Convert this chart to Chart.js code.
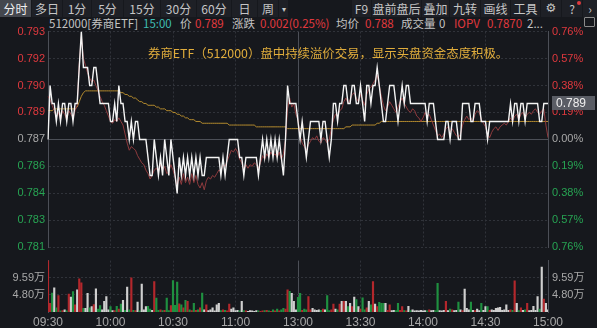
<!DOCTYPE html>
<html>
<head>
<meta charset="utf-8">
<script src="https://cdn.jsdelivr.net/npm/chart.js@4.4.0/dist/chart.umd.min.js"></script>
<style>
  html, body { margin: 0; padding: 0; background: #16181d; }
  #wrap { position: relative; width: 597px; height: 328px; overflow: hidden; background: #16181d;
          font-family: "Noto Sans CJK SC", "Noto Sans", sans-serif; }
  .tab { position: absolute; top: 0; height: 17px; line-height: 17px; font-size: 12px; color: #c6c6c6;
         text-align: center; background: #1e2026; }
  .tab.on { background: #44474e; color: #f0f0f0; }
  .t { position: absolute; white-space: nowrap; font-size: 11.5px; line-height: 14px; }
  .g { color: #c4c4c4; }
  .r { color: #e0393e; }
  canvas { position: absolute; left: 0; }
  #priceChart { top: 0; z-index: 2; }
  #volChart { top: 250px; z-index: 1; }
  #note { position: absolute; left: 148px; top: 46px; font-size: 12.4px; line-height: 14px; color: #e1ad3c;
          white-space: nowrap; z-index: 3; }
</style>
</head>
<body>
<div id="wrap">
  <!-- 顶部工具栏 -->
  <div class="tab on" style="left:0;width:31px">分时</div>
  <div class="tab" style="left:32px;width:30px">多日</div>
  <div class="tab" style="left:63px;width:28px">1分</div>
  <div class="tab" style="left:92px;width:31px">5分</div>
  <div class="tab" style="left:124px;width:36px">15分</div>
  <div class="tab" style="left:161px;width:35px">30分</div>
  <div class="tab" style="left:197px;width:34px">60分</div>
  <div class="tab" style="left:232px;width:25px">日</div>
  <div class="tab" style="left:258px;width:20px">周</div>
  <div class="tab" style="left:279px;width:9px;font-size:8px">▾</div>
  <div class="tab" style="left:352px;width:19px">F9</div>
  <div class="tab" style="left:372px;width:49px">盘前盘后</div>
  <div class="tab" style="left:422px;width:27px">叠加</div>
  <div class="tab" style="left:450px;width:30px">九转</div>
  <div class="tab" style="left:481px;width:29px">画线</div>
  <div class="tab" style="left:511px;width:29px">工具</div>
  <div class="tab" style="left:541px;width:20px;font-family:'DejaVu Sans'">⚙</div>
  <div class="tab" style="left:562px;width:20px">?</div>
  <div style="position:absolute;left:577px;top:1px;width:4px;height:4px;border-radius:2px;background:#e0393e"></div>
  <div class="tab" style="left:583px;width:14px">›</div>

  <!-- 行情信息行 -->
  <div class="t g" style="left:49px;top:16px">512000[券商ETF]</div>
  <div class="t" style="left:143px;top:16px;color:#3fbdb3">15:00</div>
  <div class="t g" style="left:180px;top:16px">价</div>
  <div class="t r" style="left:195px;top:16px">0.789</div>
  <div class="t g" style="left:232px;top:16px">涨跌</div>
  <div class="t r" style="left:260px;top:16px">0.002(0.25%)</div>
  <div class="t g" style="left:336px;top:16px">均价</div>
  <div class="t r" style="left:365px;top:16px">0.788</div>
  <div class="t g" style="left:401px;top:16px">成交量</div>
  <div class="t g" style="left:439px;top:16px">0</div>
  <div class="t r" style="left:454px;top:16px">IOPV</div>
  <div class="t r" style="left:487px;top:16px">0.7870</div>
  <div class="t g" style="left:527px;top:16px">2...</div>
  <div style="position:absolute;left:584px;top:17px;width:9px;height:8px;border:1px solid #8a8a8a;border-radius:1px"></div>

  <div id="note">券商ETF（512000）盘中持续溢价交易，显示买盘资金态度积极。</div>

  <canvas id="priceChart" width="597" height="258"></canvas>
  <canvas id="volChart" width="597" height="78"></canvas>
</div>

<script>
// 数据
const prevClose = 0.787;

// 价格（每分钟，09:30 - 15:00）
const price = [
  0.787,0.790,0.789,0.789,0.788,0.789,0.788,0.789,0.789,0.788,
  0.789,0.789,0.788,0.789,0.789,0.791,0.793,0.791,0.791,0.791,
  0.790,0.790,0.791,0.791,0.790,0.789,0.789,0.789,0.789,0.789,
  0.788,0.788,0.789,0.788,0.790,0.789,0.789,0.788,0.788,0.787,
  0.788,0.787,0.788,0.788,0.787,0.787,0.787,0.787,0.786,0.785,
  0.785,0.787,0.786,0.785,0.786,0.785,0.787,0.786,0.785,0.787,
  0.786,0.785,0.784,0.786,0.785,0.786,0.785,0.786,0.785,0.786,
  0.785,0.786,0.785,0.786,0.785,0.785,0.786,0.786,0.786,0.786,
  0.786,0.786,0.786,0.785,0.786,0.785,0.786,0.787,0.787,0.787,
  0.787,0.787,0.786,0.786,0.785,0.786,0.786,0.786,0.786,0.786,
  0.786,0.785,0.786,0.787,0.786,0.787,0.786,0.787,0.786,0.787,
  0.786,0.787,0.786,0.785,0.787,0.790,0.789,0.789,0.789,0.789,
  0.788,0.787,0.788,0.787,0.786,0.787,0.788,0.788,0.788,0.788,
  0.788,0.787,0.788,0.788,0.787,0.786,0.787,0.789,0.789,0.788,
  0.789,0.789,0.790,0.790,0.789,0.789,0.790,0.790,0.789,0.789,
  0.790,0.789,0.788,0.790,0.790,0.789,0.790,0.790,0.791,0.790,
  0.789,0.788,0.788,0.789,0.790,0.790,0.790,0.789,0.788,0.789,
  0.790,0.789,0.790,0.790,0.789,0.789,0.789,0.789,0.789,0.789,
  0.789,0.789,0.788,0.789,0.789,0.789,0.788,0.787,0.787,0.787,
  0.787,0.788,0.788,0.787,0.788,0.788,0.788,0.787,0.787,0.789,
  0.789,0.789,0.789,0.788,0.788,0.789,0.789,0.789,0.788,0.788,
  0.788,0.787,0.788,0.788,0.788,0.788,0.788,0.788,0.788,0.788,
  0.788,0.788,0.789,0.788,0.789,0.789,0.788,0.789,0.789,0.788,
  0.789,0.789,0.789,0.789,0.789,0.789,0.788,0.788,0.789,0.789,
  0.789
];

// IOPV
const iopv = [
  0.7894,0.7892,0.7889,0.7886,0.7882,0.7885,0.7881,0.7886,0.7884,0.7881,
  0.7886,0.7884,0.7882,0.7886,0.7889,0.7912,0.7927,0.7915,0.7911,0.7907,
  0.7904,0.7902,0.7903,0.7900,0.7897,0.7894,0.7891,0.7889,0.7886,0.7883,
  0.7880,0.7879,0.7881,0.7880,0.7882,0.7880,0.7878,0.7873,0.7868,0.7864,
  0.7866,0.7865,0.7864,0.7861,0.7859,0.7857,0.7856,0.7853,0.7851,0.7848,
  0.7850,0.7853,0.7854,0.7852,0.7856,0.7853,0.7855,0.7851,0.7852,0.7856,
  0.7853,0.7849,0.7844,0.7849,0.7845,0.7851,0.7846,0.7849,0.7845,0.7851,
  0.7846,0.7850,0.7845,0.7843,0.7846,0.7842,0.7847,0.7849,0.7848,0.7850,
  0.7849,0.7851,0.7853,0.7852,0.7856,0.7855,0.7858,0.7861,0.7864,0.7863,
  0.7865,0.7863,0.7859,0.7857,0.7853,0.7856,0.7854,0.7856,0.7855,0.7857,
  0.7856,0.7854,0.7857,0.7861,0.7859,0.7862,0.7860,0.7863,0.7861,0.7862,
  0.7860,0.7863,0.7859,0.7862,0.7870,0.7887,0.7893,0.7888,0.7890,0.7884,
  0.7881,0.7872,0.7868,0.7866,0.7864,0.7867,0.7869,0.7871,0.7870,0.7872,
  0.7869,0.7868,0.7871,0.7870,0.7868,0.7870,0.7876,0.7881,0.7884,0.7883,
  0.7886,0.7887,0.7891,0.7893,0.7890,0.7892,0.7895,0.7896,0.7893,0.7891,
  0.7895,0.7892,0.7889,0.7895,0.7898,0.7899,0.7901,0.7903,0.7906,0.7900,
  0.7894,0.7889,0.7886,0.7888,0.7891,0.7889,0.7887,0.7885,0.7888,0.7891,
  0.7893,0.7890,0.7888,0.7886,0.7885,0.7887,0.7886,0.7883,0.7882,0.7880,
  0.7882,0.7885,0.7883,0.7884,0.7881,0.7878,0.7875,0.7872,0.7873,0.7871,
  0.7873,0.7876,0.7877,0.7874,0.7876,0.7874,0.7872,0.7871,0.7873,0.7878,
  0.7881,0.7883,0.7881,0.7882,0.7880,0.7884,0.7886,0.7885,0.7881,0.7879,
  0.7877,0.7873,0.7871,0.7874,0.7876,0.7877,0.7875,0.7877,0.7878,0.7879,
  0.7878,0.7880,0.7882,0.7880,0.7883,0.7884,0.7881,0.7884,0.7885,0.7882,
  0.7884,0.7885,0.7884,0.7886,0.7887,0.7885,0.7884,0.7886,0.7887,0.7878,
  0.7871
];

// 均价
const avgPrice = [
  0.7886,0.7886,0.7886,0.7887,0.7887,0.7887,0.7887,0.7887,0.7887,0.7887,
  0.7887,0.7887,0.7887,0.7887,0.7888,0.7891,0.7894,0.7896,0.7897,0.7897,
  0.7897,0.7897,0.7897,0.7897,0.7897,0.7897,0.7897,0.7897,0.7897,0.7897,
  0.7897,0.7897,0.7897,0.7897,0.7897,0.7896,0.7896,0.7895,0.7895,0.7894,
  0.7894,0.7893,0.7893,0.7892,0.7891,0.7891,0.7890,0.7890,0.7889,0.7889,
  0.7889,0.7889,0.7888,0.7888,0.7887,0.7887,0.7887,0.7886,0.7886,0.7886,
  0.7885,0.7885,0.7884,0.7884,0.7883,0.7883,0.7882,0.7882,0.7881,0.7881,
  0.7881,0.7880,0.7880,0.7880,0.7879,0.7879,0.7879,0.7879,0.7879,0.7879,
  0.7879,0.7879,0.7879,0.7879,0.7879,0.7879,0.7879,0.7878,0.7878,0.7878,
  0.7878,0.7878,0.7878,0.7878,0.7878,0.7878,0.7878,0.7878,0.7878,0.7878,
  0.7877,0.7877,0.7877,0.7877,0.7877,0.7877,0.7877,0.7877,0.7877,0.7877,
  0.7877,0.7877,0.7877,0.7877,0.7877,0.7876,0.7876,0.7876,0.7876,0.7876,
  0.7876,0.7876,0.7876,0.7876,0.7876,0.7876,0.7876,0.7876,0.7876,0.7876,
  0.7876,0.7876,0.7876,0.7876,0.7876,0.7876,0.7876,0.7876,0.7876,0.7876,
  0.7876,0.7876,0.7876,0.7877,0.7877,0.7877,0.7878,0.7878,0.7878,0.7878,
  0.7878,0.7878,0.7878,0.7878,0.7878,0.7878,0.7878,0.7878,0.7879,0.7879,
  0.7880,0.7880,0.7880,0.7880,0.7880,0.7880,0.7880,0.7880,0.7880,0.7880,
  0.7880,0.7880,0.7880,0.7880,0.7880,0.7880,0.7880,0.7880,0.7880,0.7880,
  0.7880,0.7880,0.7880,0.7880,0.7880,0.7880,0.7880,0.7880,0.7880,0.7880,
  0.7880,0.7880,0.7880,0.7880,0.7880,0.7880,0.7880,0.7880,0.7880,0.7880,
  0.7880,0.7880,0.7880,0.7880,0.7880,0.7880,0.7880,0.7880,0.7880,0.7880,
  0.7880,0.7880,0.7880,0.7880,0.7880,0.7880,0.7880,0.7880,0.7880,0.7880,
  0.7880,0.7880,0.7880,0.7880,0.7880,0.7880,0.7880,0.7880,0.7880,0.7880,
  0.7880,0.7880,0.7880,0.7880,0.7880,0.7880,0.7880,0.7880,0.7880,0.7880,
  0.7880
];

// 成交量（万）
const volume = [
  20, 2.4, 5.3, 6.8, 1.2, 4.6, 0.3, 0.4, 0.6, 0.3,
  5.0, 4.2, 5.7, 2.0, 6.2, 9.3, 8.2, 1.0, 1.0, 5.2,
  1.2, 1.5, 2.1, 6.5, 0.8, 1.8, 0.6, 3.0, 4.3, 0.6,
  1.5, 0.4, 0.4, 1.6, 0.8, 2.2, 3.3, 0.5, 7.0, 0.6,
  9.6, 0.5, 0.4, 2.8, 0.3, 7.8, 0.6, 1.5, 1.6, 0.8,
  0.5, 8.5, 3.9, 0.5, 0.6, 0.4, 0.5, 3.9, 0.4, 1.8,
  8.8, 1.9, 8.4, 2.3, 2.0, 1.2, 3.3, 3.0, 0.6, 0.4,
  2.4, 0.5, 0.6, 1.2, 5.3, 0.6, 2.0, 0.4, 0.6, 1.2,
  0.3, 2.0, 2.4, 0.4, 0.6, 0.5, 0.3, 2.2, 0.8, 1.2,
  0.4, 0.5, 0.3, 3.0, 0.4, 0.3, 0.2, 0.4, 0.3, 0.2,
  0.4, 0.3, 0.2, 0.3, 0.4, 0.5, 0.3, 0.2, 0.6, 0.3,
  0.8, 0.3, 0.6, 1.0, 0.8, 6.2, 5.8, 5.2, 3.0, 0.6,
  4.1, 5.2, 0.5, 0.8, 0.6, 4.3, 0.6, 1.0, 0.6, 0.5,
  0.6, 0.5, 0.8, 0.6, 4.6, 0.4, 0.6, 2.2, 0.8, 0.6,
  2.2, 3.0, 3.0, 3.0, 1.5, 2.4, 1.5, 4.2, 3.5, 1.5,
  0.8, 4.0, 0.6, 1.2, 3.0, 2.0, 8.5, 2.2, 1.5, 2.7,
  2.4, 2.4, 2.4, 0.5, 2.0, 0.4, 0.5, 0.4, 2.4, 0.5,
  1.5, 0.4, 0.3, 1.6, 0.4, 0.6, 0.3, 0.4, 0.3, 0.5,
  0.3, 0.4, 0.3, 0.6, 0.4, 0.5, 0.4, 8.0, 0.4, 0.3,
  0.5, 3.0, 0.4, 0.8, 0.6, 0.4, 0.5, 2.8, 0.6, 0.4,
  6.4, 1.0, 0.6, 2.8, 0.5, 0.4, 0.8, 0.4, 2.4, 0.5,
  1.5, 1.5, 0.5, 0.6, 0.5, 1.0, 1.2, 1.3, 0.5, 0.6,
  2.0, 0.5, 0.6, 0.5, 8.7, 2.4, 0.4, 1.2, 0.5, 0.6,
  2.4, 0.4, 0.5, 1.6, 0.5, 4.3, 0.8, 12.6, 3.6, 2.4,
  0.6
];

// 坐标轴刻度
const priceTicks = [0.793, 0.7915, 0.790, 0.7885, 0.787, 0.7855, 0.784, 0.7825, 0.781];
const priceTickLabels = ['0.793', '0.792', '0.790', '0.789', '0.787', '0.786', '0.784', '0.783', '0.781'];
const pctTickLabels = ['0.76%', '0.57%', '0.38%', '0.19%', '0.00%', '0.19%', '0.38%', '0.57%', '0.76%'];
const volMax = 14.39;
const volTicks = [4.80, 9.59];
const volTickLabels = ['4.80万', '9.59万'];
const timeTickIdx = [0, 30, 60, 90, 120, 150, 180, 210, 240];
const timeTickLabels = ['09:30', '10:00', '10:30', '11:00', '13:00', '13:30', '14:00', '14:30', '15:00'];

// 样式
const RED = '#e0393e', GREEN = '#27a453', GRAY = '#a8a8a8';
const GRID = '#30333a', GRID_MAIN = '#4c4f57';
const tickFont = { family: '"Liberation Sans", "Noto Sans CJK SC", sans-serif', size: 11 };
const labels = price.map((_, i) => i);

const priceColor = c => c.index < 4 ? RED : (c.index === 4 ? GRAY : GREEN);
const isMainX = c => c.index === 0 || c.index === 4 || c.index === 8;

const xAxisBase = {
  type: 'category',
  offset: false,
  afterBuildTicks: s => { s.ticks = timeTickIdx.map(v => ({ value: v })); },
  grid: { offset: false, drawTicks: false, color: c => isMainX(c) ? GRID_MAIN : GRID },
  border: { display: false, dash: c => isMainX(c) ? [] : [2, 2] }
};

// 最新价标签
const lastPriceTag = {
  id: 'lastPriceTag',
  afterDraw(chart) {
    const { ctx, chartArea } = chart;
    const v = price[price.length - 1];
    const y = chart.scales.y.getPixelForValue(v);
    ctx.save();
    ctx.fillStyle = '#5a5d65';
    ctx.fillRect(chartArea.right + 4, Math.round(y) - 7, 43, 14);
    ctx.fillStyle = '#efefef';
    ctx.font = '12px "Liberation Sans", sans-serif';
    ctx.textBaseline = 'middle';
    ctx.fillText(v.toFixed(3), chartArea.right + 8, Math.round(y) + 0.5);
    ctx.restore();
  }
};

// 分时图
new Chart(document.getElementById('priceChart'), {
  type: 'line',
  data: {
    labels: labels,
    datasets: [
      { data: price, borderColor: '#f4f4f4', borderWidth: 1.4 },
      { data: iopv, borderColor: '#8f3b3e', borderWidth: 1 },
      { data: avgPrice, borderColor: '#b38a2e', borderWidth: 1 }
    ]
  },
  options: {
    responsive: false,
    animation: false,
    layout: { padding: { top: 31.5, bottom: 8, left: 0, right: 0 } },
    elements: { point: { radius: 0 }, line: { tension: 0 } },
    plugins: { legend: { display: false }, tooltip: { enabled: false } },
    scales: {
      x: Object.assign({}, xAxisBase, {
        ticks: { display: false },
        afterFit: s => { s.height = 0; }
      }),
      y: {
        position: 'left', min: 0.781, max: 0.793, bounds: 'data',
        afterBuildTicks: s => { s.ticks = priceTicks.map(v => ({ value: v })); },
        afterFit: s => { s.width = 48; },
        ticks: { autoSkip: false, padding: 3, color: priceColor, font: tickFont,
                 callback: (v, i) => priceTickLabels[i] },
        grid: { drawTicks: false, color: c => c.index === 4 ? GRID_MAIN : GRID },
        border: { display: true, color: GRID_MAIN, dash: c => c.index === 4 ? [] : [2, 2] }
      },
      y2: {
        position: 'right', min: 0.781, max: 0.793, bounds: 'data',
        afterBuildTicks: s => { s.ticks = priceTicks.map(v => ({ value: v })); },
        afterFit: s => { s.width = 49; },
        ticks: { autoSkip: false, padding: 4, color: priceColor, font: tickFont,
                 callback: (v, i) => pctTickLabels[i] },
        grid: { drawOnChartArea: false, drawTicks: false },
        border: { display: true, color: GRID_MAIN }
      }
    }
  },
  plugins: [lastPriceTag]
});

// 成交量
const barColor = c => {
  const i = c.dataIndex;
  if (i === 0) return '#b3272c'; // 开盘集合竞价
  if (price[i] > price[i - 1]) return '#b3272c';
  if (price[i] < price[i - 1]) return '#1f9040';
  return '#cfcfcf';
};

new Chart(document.getElementById('volChart'), {
  type: 'bar',
  data: {
    labels: labels,
    datasets: [{ data: volume, backgroundColor: barColor, barThickness: 1.5 }]
  },
  options: {
    responsive: false,
    animation: false,
    layout: { padding: { top: 1, bottom: 0, left: 0, right: 0 } },
    plugins: { legend: { display: false }, tooltip: { enabled: false } },
    scales: {
      x: Object.assign({}, xAxisBase, {
        ticks: { autoSkip: false, maxRotation: 0, padding: 3, color: GRAY,
                 font: { family: tickFont.family, size: 12 },
                 callback: (v, i) => timeTickLabels[i] },
        afterFit: s => { s.height = 16; }
      }),
      y: {
        position: 'left', min: 0, max: volMax, bounds: 'data',
        afterBuildTicks: s => { s.ticks = volTicks.map(v => ({ value: v })); },
        afterFit: s => { s.width = 48; },
        ticks: { autoSkip: false, padding: 3, color: GRAY, font: tickFont,
                 callback: (v, i) => volTickLabels[i] },
        grid: { drawTicks: false, color: GRID },
        border: { display: true, color: GRID_MAIN, dash: [2, 2] }
      },
      y2: {
        position: 'right', min: 0, max: volMax, bounds: 'data',
        afterBuildTicks: s => { s.ticks = volTicks.map(v => ({ value: v })); },
        afterFit: s => { s.width = 49; },
        ticks: { autoSkip: false, padding: 4, color: GRAY, font: tickFont,
                 callback: (v, i) => volTickLabels[i] },
        grid: { drawOnChartArea: false, drawTicks: false },
        border: { display: true, color: GRID_MAIN }
      }
    }
  }
});
</script>
</body>
</html>
